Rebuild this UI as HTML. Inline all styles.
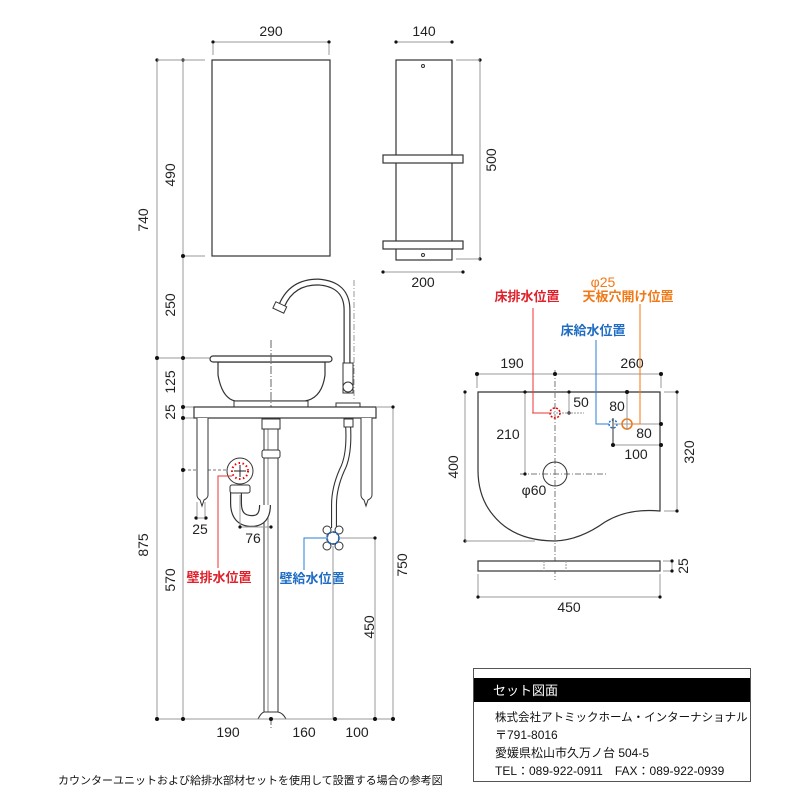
<!DOCTYPE html>
<html><head><meta charset="utf-8"><style>
body{margin:0;background:#fff;}
svg{display:block;font-family:"Liberation Sans","Noto Sans CJK JP",sans-serif;}
.d{stroke:#999;stroke-width:1;fill:none}
.t{font-size:14px;fill:#222}
</style></head><body>
<svg width="800" height="800" viewBox="0 0 800 800" xmlns="http://www.w3.org/2000/svg">
<defs><marker id="dt" markerWidth="4" markerHeight="4" refX="2" refY="2"><circle cx="2" cy="2" r="1.6" fill="#111"/></marker></defs>
<!-- mirror -->
<rect x="212" y="60" width="118" height="196" fill="#fff" stroke="#333" stroke-width="1.2"/>
<line class="d" x1="213" y1="42" x2="329" y2="42" marker-start="url(#dt)" marker-end="url(#dt)"/>
<line class="d" x1="213" y1="44" x2="213" y2="55"/><line class="d" x1="329" y1="44" x2="329" y2="55"/>
<text class="t" x="271" y="36" text-anchor="middle">290</text>
<!-- shelf -->
<rect x="396" y="60" width="56" height="200" fill="#fff" stroke="#333" stroke-width="1.2"/>
<rect x="383" y="155" width="80" height="8" fill="#fff" stroke="#333" stroke-width="1.2"/>
<rect x="383" y="241" width="80" height="8" fill="#fff" stroke="#333" stroke-width="1.2"/>
<circle cx="423" cy="66" r="1.5" fill="none" stroke="#333"/><circle cx="423" cy="255" r="1.5" fill="none" stroke="#333"/>
<line class="d" x1="396" y1="42" x2="452" y2="42" marker-start="url(#dt)" marker-end="url(#dt)"/>
<text class="t" x="424" y="36" text-anchor="middle">140</text>
<line class="d" x1="480" y1="60" x2="480" y2="259" marker-start="url(#dt)" marker-end="url(#dt)"/>
<line class="d" x1="456" y1="60" x2="480" y2="60"/><line class="d" x1="456" y1="259" x2="480" y2="259"/>
<text class="t" transform="translate(496,160) rotate(-90)" text-anchor="middle">500</text>
<line class="d" x1="383" y1="272" x2="463" y2="272" marker-start="url(#dt)" marker-end="url(#dt)"/>
<text class="t" x="423" y="287" text-anchor="middle">200</text>
<!-- left dims -->
<line class="d" x1="157" y1="60" x2="157" y2="719" marker-start="url(#dt)" marker-end="url(#dt)"/>
<line class="d" x1="183" y1="60" x2="183" y2="719" marker-start="url(#dt)" marker-end="url(#dt)"/>
<line class="d" x1="157" y1="60" x2="205" y2="60"/>
<line class="d" x1="183" y1="256" x2="205" y2="256"/>
<line class="d" x1="157" y1="358" x2="210" y2="358"/>
<line class="d" x1="183" y1="407" x2="194" y2="407"/>
<line class="d" x1="183" y1="418" x2="194" y2="418"/>
<line x1="183" y1="470" x2="226" y2="470" stroke="#777" stroke-dasharray="3,2"/>
<g fill="#111"><circle cx="157" cy="358" r="2"/><circle cx="183" cy="256" r="2"/><circle cx="183" cy="358" r="2"/><circle cx="183" cy="407" r="2"/><circle cx="183" cy="418" r="2"/><circle cx="183" cy="470" r="2"/></g>
<g class="t">
<text transform="translate(148,220) rotate(-90)" text-anchor="middle">740</text>
<text transform="translate(175,175) rotate(-90)" text-anchor="middle">490</text>
<text transform="translate(175,305) rotate(-90)" text-anchor="middle">250</text>
<text transform="translate(175,382) rotate(-90)" text-anchor="middle">125</text>
<text transform="translate(175,412) rotate(-90)" text-anchor="middle">25</text>
<text transform="translate(148,545) rotate(-90)" text-anchor="middle">875</text>
<text transform="translate(175,580) rotate(-90)" text-anchor="middle">570</text>
</g>
<!-- faucet -->
<path d="M347,392 L347,310 Q347,284 318,282 Q292,282 282,305" fill="none" stroke="#333" stroke-width="7"/>
<path d="M347,392 L347,310 Q347,284 318,282 Q292,282 282,305" fill="none" stroke="#fff" stroke-width="4.6"/>
<rect x="274" y="304" width="12" height="7" transform="rotate(25 280 307)" fill="#fff" stroke="#333"/>
<rect x="343" y="363" width="10" height="30" fill="#fff" stroke="#333"/>
<circle cx="348" cy="387" r="5" fill="#fff" stroke="#333"/>
<rect x="336" y="403" width="24" height="5" fill="#fff" stroke="#333"/>
<line x1="354" y1="280" x2="354" y2="400" stroke="#999" stroke-dasharray="6,2,1,2"/>
<!-- basin -->
<path d="M218,362 L218,375 Q222,398 235,401 L305,401 Q322,398 325,375 L325,362Z" fill="#fff" stroke="#333" stroke-width="1.2"/>
<rect x="234" y="401" width="74" height="6" fill="#fff" stroke="#333"/>
<rect x="210" y="356" width="122" height="6" rx="3" fill="#fff" stroke="#333" stroke-width="1.2"/>
<line x1="271" y1="340" x2="271" y2="730" stroke="#666" stroke-dasharray="8,2,1,2"/>
<!-- counter -->
<rect x="194" y="407" width="182" height="11" fill="#fff" stroke="#333" stroke-width="1.2"/>
<path d="M197,418 L197,495 Q197,498 200,500 L202,506 L204,500 Q208,498 208,495 L208,418" fill="#fff" stroke="#333"/>
<path d="M361,418 L361,495 Q361,498 364,500 L366,506 L368,500 Q372,498 372,495 L372,418" fill="#fff" stroke="#333"/>
<!-- drain pipe -->
<rect x="264" y="418" width="14" height="300" fill="#fff" stroke="#333"/>
<line x1="268" y1="420" x2="268" y2="716" stroke="#333" stroke-width=".6"/>
<rect x="262" y="419" width="18" height="10" fill="#fff" stroke="#333"/>
<rect x="262" y="450" width="18" height="8" rx="2" fill="#fff" stroke="#333"/>
<path d="M258,719 Q261,713 264,712 L278,712 Q283,713 286,719Z" fill="#fff" stroke="#333"/>
<!-- trap -->
<path d="M236,490 L236,503 Q236,521 252,521 Q265,521 265,505" fill="none" stroke="#333" stroke-width="12"/>
<path d="M236,490 L236,503 Q236,521 252,521 Q265,521 265,505" fill="none" stroke="#fff" stroke-width="9.6"/>
<rect x="230" y="485" width="20" height="8" rx="2" fill="#fff" stroke="#333"/>
<circle cx="240" cy="471" r="13" fill="#fff" stroke="#333"/>
<circle cx="240" cy="471" r="8" fill="none" stroke="#e00" stroke-width="2" stroke-dasharray="1.5,2.5"/>
<line x1="234" y1="471" x2="246" y2="471" stroke="#222"/><line x1="240" y1="465" x2="240" y2="477" stroke="#222"/>
<path d="M232,476 L218,476 L218,568" fill="none" stroke="#e33" stroke-width="1"/>
<text x="219" y="582" font-size="13" font-weight="bold" fill="#e0202a" text-anchor="middle">壁排水位置</text>
<line class="d" x1="197" y1="502" x2="197" y2="520"/><line class="d" x1="205" y1="502" x2="205" y2="520"/>
<line class="d" x1="196" y1="518" x2="206" y2="518" marker-start="url(#dt)" marker-end="url(#dt)"/>
<text class="t" x="200" y="534" text-anchor="middle">25</text>
<line class="d" x1="240" y1="495" x2="240" y2="528"/>
<line class="d" x1="240" y1="527" x2="271" y2="527" marker-start="url(#dt)" marker-end="url(#dt)"/>
<text class="t" x="253" y="543" text-anchor="middle">76</text>
<!-- hose -->
<path d="M348,424 Q350,455 342,470 Q334,488 334,505 L334,528" fill="none" stroke="#333" stroke-width="6"/>
<path d="M348,424 Q350,455 342,470 Q334,488 334,505 L334,528" fill="none" stroke="#fff" stroke-width="3.8"/>
<rect x="344" y="419" width="9" height="8" fill="#fff" stroke="#333"/>
<g fill="#fff" stroke="#333">
<circle cx="327" cy="530" r="4"/><circle cx="339" cy="530" r="4"/><circle cx="327" cy="546" r="4"/><circle cx="339" cy="546" r="4"/>
<circle cx="333" cy="538" r="6"/></g>
<circle cx="333" cy="538" r="6" fill="none" stroke="#1e6fd0" stroke-width="2" stroke-dasharray="2,2"/>
<line class="d" x1="339" y1="538" x2="375" y2="538"/>
<path d="M326,538 L304,538 L304,570" fill="none" stroke="#2a7fd4"/>
<text x="312" y="583" font-size="13" font-weight="bold" fill="#1f6cc4" text-anchor="middle">壁給水位置</text>
<!-- right dims -->
<line class="d" x1="376" y1="407" x2="393" y2="407"/>
<line class="d" x1="393" y1="407" x2="393" y2="719" marker-start="url(#dt)" marker-end="url(#dt)"/>
<line class="d" x1="375" y1="538" x2="375" y2="719" marker-start="url(#dt)" marker-end="url(#dt)"/>
<line class="d" x1="333" y1="546" x2="333" y2="719"/>
<text class="t" transform="translate(407,565) rotate(-90)" text-anchor="middle">750</text>
<text class="t" transform="translate(374,627) rotate(-90)" text-anchor="middle">450</text>
<line class="d" x1="157" y1="719" x2="393" y2="719"/>
<g fill="#111"><circle cx="157" cy="719" r="2"/><circle cx="183" cy="719" r="2"/><circle cx="271" cy="719" r="2"/><circle cx="335" cy="719" r="2"/><circle cx="375" cy="719" r="2"/><circle cx="393" cy="719" r="2"/></g>
<text class="t" x="228" y="737" text-anchor="middle">190</text>
<text class="t" x="304" y="737" text-anchor="middle">160</text>
<text class="t" x="357" y="737" text-anchor="middle">100</text>
<!-- plan view -->
<path d="M478,392 L660,392 L660,511 Q628,508 605,522 Q580,540 555,541 Q514,541 493,515 Q478,497 478,470 Z" fill="#fff" stroke="#333" stroke-width="1.2"/>
<line x1="555" y1="370" x2="555" y2="580" stroke="#777" stroke-dasharray="6,2,1,2"/>
<line x1="520" y1="474" x2="608" y2="474" stroke="#777" stroke-dasharray="6,2,1,2"/>
<circle cx="555" cy="474" r="12" fill="none" stroke="#333"/>
<text class="t" x="534" y="495" text-anchor="middle">φ60</text>
<line class="d" x1="477" y1="374" x2="661" y2="374"/>
<line class="d" x1="477" y1="374" x2="477" y2="388"/><line class="d" x1="661" y1="374" x2="661" y2="388"/>
<g fill="#111"><circle cx="477" cy="374" r="2"/><circle cx="555" cy="374" r="2"/><circle cx="661" cy="374" r="2"/></g>
<text class="t" x="512" y="368" text-anchor="middle">190</text>
<text class="t" x="632" y="368" text-anchor="middle">260</text>
<line class="d" x1="465" y1="392" x2="465" y2="541" marker-start="url(#dt)" marker-end="url(#dt)"/>
<line class="d" x1="465" y1="541" x2="535" y2="541"/>
<text class="t" transform="translate(458,467) rotate(-90)" text-anchor="middle">400</text>
<line class="d" x1="664" y1="392" x2="677" y2="392"/><line class="d" x1="664" y1="511" x2="677" y2="511"/>
<line class="d" x1="677" y1="392" x2="677" y2="511" marker-start="url(#dt)" marker-end="url(#dt)"/>
<text class="t" transform="translate(694,452) rotate(-90)" text-anchor="middle">320</text>
<line class="d" x1="525" y1="392" x2="525" y2="474" marker-start="url(#dt)" marker-end="url(#dt)"/>
<text class="t" x="508" y="439" text-anchor="middle">210</text>
<line class="d" x1="569" y1="392" x2="569" y2="413" marker-start="url(#dt)" marker-end="url(#dt)"/>
<line x1="532" y1="413" x2="584" y2="413" stroke="#999" stroke-dasharray="2,1"/>
<text class="t" x="581" y="407" text-anchor="middle">50</text>
<circle cx="555" cy="413" r="5" fill="none" stroke="#e00" stroke-width="1.5" stroke-dasharray="2,1.5"/>
<circle cx="613" cy="424" r="4" fill="none" stroke="#1e6fd0" stroke-width="1.5" stroke-dasharray="2,1.5"/>
<circle cx="627" cy="424" r="5" fill="none" stroke="#f07a18" stroke-width="1.6"/>
<line x1="627" y1="392" x2="627" y2="430" stroke="#999"/>
<line x1="614" y1="424" x2="661" y2="424" stroke="#999"/>
<line x1="613" y1="418" x2="613" y2="446" stroke="#333"/>
<line class="d" x1="613" y1="445" x2="661" y2="445"/>
<g fill="#111"><circle cx="627" cy="392" r="2"/><circle cx="661" cy="424" r="2"/><circle cx="661" cy="445" r="2"/><circle cx="613" cy="445" r="2"/></g>
<text class="t" x="617" y="411" text-anchor="middle">80</text>
<text class="t" x="644" y="438" text-anchor="middle">80</text>
<text class="t" x="636" y="459" text-anchor="middle">100</text>
<path d="M533,308 L533,413 L550,413" fill="none" stroke="#e33"/>
<path d="M596,340 L596,424 L609,424" fill="none" stroke="#2a7fd4"/>
<path d="M640,304 L640,424 L632,424" fill="none" stroke="#f07a18"/>
<text x="527" y="301" font-size="13" font-weight="bold" fill="#e0202a" text-anchor="middle">床排水位置</text>
<text x="603" y="287" font-size="14" fill="#f07a18" text-anchor="middle">φ25</text>
<text x="628" y="301" font-size="13" font-weight="bold" fill="#f07a18" text-anchor="middle">天板穴開け位置</text>
<text x="593" y="335" font-size="13" font-weight="bold" fill="#1f6cc4" text-anchor="middle">床給水位置</text>
<!-- side slab -->
<rect x="478" y="561" width="182" height="10" fill="#fff" stroke="#333" stroke-width="1.2"/>
<line x1="544" y1="561" x2="544" y2="571" stroke="#999" stroke-dasharray="2,1"/><line x1="566" y1="561" x2="566" y2="571" stroke="#999" stroke-dasharray="2,1"/>
<line class="d" x1="663" y1="561" x2="672" y2="561"/><line class="d" x1="663" y1="571" x2="672" y2="571"/>
<line class="d" x1="672" y1="561" x2="672" y2="571" marker-start="url(#dt)" marker-end="url(#dt)"/>
<text class="t" transform="translate(688,566) rotate(-90)" text-anchor="middle">25</text>
<line class="d" x1="478" y1="574" x2="478" y2="597"/><line class="d" x1="660" y1="574" x2="660" y2="597"/>
<line class="d" x1="478" y1="597" x2="660" y2="597" marker-start="url(#dt)" marker-end="url(#dt)"/>
<text class="t" x="569" y="612" text-anchor="middle">450</text>
<!-- info box -->
<rect x="473.5" y="668.5" width="277" height="113" fill="#fff" stroke="#555"/>
<rect x="474" y="678" width="276" height="24" fill="#000"/>
<text x="493" y="695" font-size="13" fill="#fff">セット図面</text>
<g font-size="12" fill="#111">
<text x="495" y="721" font-size="11.5">株式会社アトミックホーム・インターナショナル</text>
<text x="495" y="739">〒791-8016</text>
<text x="495" y="757">愛媛県松山市久万ノ台 504-5</text>
<text x="495" y="775">TEL：089-922-0911　FAX：089-922-0939</text>
</g>
<text x="58" y="784" font-size="11" fill="#111">カウンターユニットおよび給排水部材セットを使用して設置する場合の参考図</text>
</svg>
</body></html>
